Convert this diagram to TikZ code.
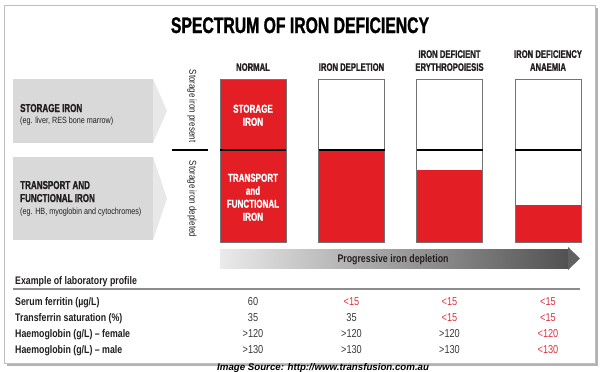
\documentclass[tikz,border=0pt]{standalone}
\usepackage{fontspec}
\setmainfont{Liberation Sans}
\newfontfamily\schmal[FakeStretch=0.7,BoldFeatures={FakeBold=1.2}]{Liberation Sans}
\newfontfamily\mittel[FakeStretch=0.8]{Liberation Sans}
\usetikzlibrary{positioning,calc}
\definecolor{eisenrot}{HTML}{E31E24}
\definecolor{kastengrau}{HTML}{D9D9D9}
\definecolor{spitzengrau}{HTML}{E8E8E8}
\definecolor{textgrau}{HTML}{231F20}
\definecolor{wertgrau}{HTML}{3A3A3A}
\definecolor{wertrot}{HTML}{E03340}
\tikzset{
  kopf/.style={font=\schmal\bfseries\fontsize{11}{13}\selectfont,align=center,anchor=north,inner sep=0pt,text=textgrau},
  kastentitel/.style={font=\schmal\bfseries\fontsize{11.5}{13}\selectfont,anchor=base west,inner sep=0pt,text=textgrau},
  kastenbsp/.style={font=\mittel\fontsize{9}{11}\selectfont,anchor=base west,inner sep=0pt,text=textgrau},
  saeulentext/.style={font=\schmal\bfseries\fontsize{11.5}{13}\selectfont,align=center,anchor=north,inner sep=0pt,text=white},
  hochtext/.style={font=\mittel\fontsize{10}{12}\selectfont,rotate=-90,inner sep=0pt,text=textgrau},
  laborname/.style={font=\mittel\bfseries\fontsize{11}{13}\selectfont,anchor=base west,inner sep=0pt,text=textgrau},
  wert/.style={font=\mittel\fontsize{11.5}{13}\selectfont,anchor=base,inner sep=0pt},
}
\begin{document}
\begin{tikzpicture}[x=1pt,y=-1pt]
\useasboundingbox (0,0) rectangle (600,372);
%Rahmen mit Schatten
\fill[black!30] (7,8) rectangle (598,366);
\filldraw[fill=white,draw=black!25] (4,5) rectangle (595,363);
\node[font=\schmal\bfseries\fontsize{22.5}{27}\selectfont,anchor=base,inner sep=0pt] (titel) at (300,33) {SPECTRUM OF IRON DEFICIENCY};
%linke Kaesten mit Spitze
\fill[kastengrau] (13,79) rectangle (153,143);
\fill[spitzengrau] (153,79) -- (167,111) -- (153,143) -- cycle;
\fill[kastengrau] (13,157) rectangle (153,240);
\fill[spitzengrau] (153,157) -- (167,198.5) -- (153,240) -- cycle;
\node[kastentitel] (speicher) at (20,112) {STORAGE IRON};
\node[kastenbsp] (speicherbsp) at (20,123) {(eg. liver, RES bone marrow)};
\node[kastentitel] (transportA) at (20,189) {TRANSPORT AND};
\node[kastentitel] (transportB) at (20,202) {FUNCTIONAL IRON};
\node[kastenbsp] (transportbsp) at (20,214) {(eg. HB, myoglobin and cytochromes)};
%Trennstrich und Hochtexte
\node[hochtext] (vorhanden) at (192,106) {Storage iron present};
\node[hochtext] (leer) at (192,199) {Storage iron depleted};
\draw[black,line width=2.5pt] (172,150) -- (208,150);
%Saeulen
\foreach \x/\rot/\oben/\titel [count=\k] in {253/79/63/NORMAL,351.5/150/63/IRON DEPLETION,449.5/170/50/{IRON DEFICIENT\\ERYTHROPOIESIS},548/205/50/{IRON DEFICIENCY\\ANAEMIA}}{
  \fill[eisenrot] (\x-33,\rot) rectangle (\x+33,242);
  \draw[black!55,line width=0.7pt] (\x-33,79) rectangle (\x+33,242);
  \draw[black,line width=2.5pt] (\x-33,150) -- (\x+33,150);
  \node[kopf] (kopf\k) at (\x,\oben) {\titel};
}
\node[saeulentext] (normalA) at (253,104.5) {STORAGE\\IRON};
\node[saeulentext] (normalB) at (253,173.5) {TRANSPORT\\and\\FUNCTIONAL\\IRON};
%Pfeil
\shade[left color=black!8,right color=black!68] (220,249) rectangle (568,268);
\fill[black!62] (568,247) -- (580,258.5) -- (568,270) -- cycle;
\node[font=\mittel\bfseries\fontsize{11}{13}\selectfont,text=textgrau,anchor=base,inner sep=0pt] (pfeiltext) at (393,262) {Progressive iron depletion};
%Laborwerte
\node[laborname] (beispiel) at (15,284) {Example of laboratory profile};
\draw[black!45,line width=1.2pt] (13,289) -- (580,289);
\node[laborname] (ferritin) at (15,305) {Serum ferritin (µg/L)};
\node[laborname] (saettigung) at (15,321) {Transferrin saturation (\%)};
\node[laborname] (hbw) at (15,337) {Haemoglobin (g/L) – female};
\node[laborname] (hbm) at (15,353) {Haemoglobin (g/L) – male};
\foreach \x/\w/\f [count=\k] in {253/60/wertgrau,351.5/{<15}/wertrot,449.5/{<15}/wertrot,548/{<15}/wertrot}
  \node[wert,text=\f] (ferritin\k) at (\x,305) {\w};
\foreach \x/\w/\f [count=\k] in {253/35/wertgrau,351.5/35/wertgrau,449.5/{<15}/wertrot,548/{<15}/wertrot}
  \node[wert,text=\f] (saettigung\k) at (\x,321) {\w};
\foreach \x/\w/\f [count=\k] in {253/{>120}/wertgrau,351.5/{>120}/wertgrau,449.5/{>120}/wertgrau,548/{<120}/wertrot}
  \node[wert,text=\f] (hbw\k) at (\x,337) {\w};
\foreach \x/\w/\f [count=\k] in {253/{>130}/wertgrau,351.5/{>130}/wertgrau,449.5/{>130}/wertgrau,548/{<130}/wertrot}
  \node[wert,text=\f] (hbm\k) at (\x,353) {\w};
\node[font=\bfseries\itshape\fontsize{9.7}{11}\selectfont,anchor=base west,inner sep=0pt] (quelle) at (217,370) {Image Source: http://www.transfusion.com.au};
\end{tikzpicture}
\end{document}
